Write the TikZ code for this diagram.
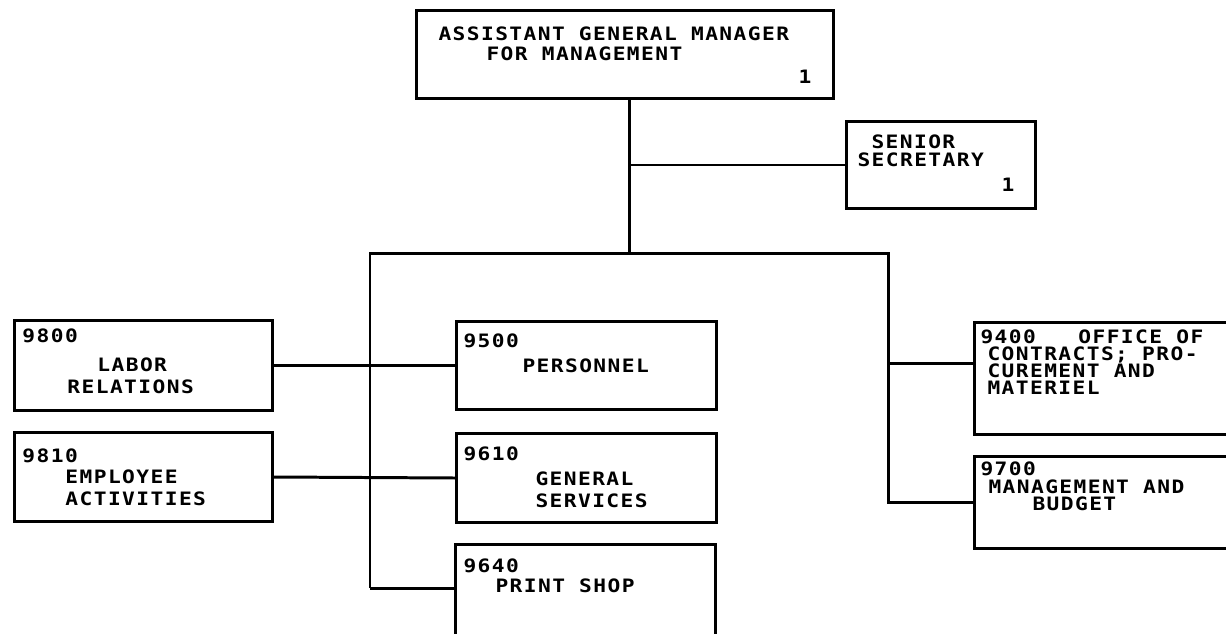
\documentclass[tikz,border=0pt]{standalone}
\usepackage{fontspec}
\newfontfamily\orgfont{DejaVu Sans Mono}[FakeStretch=1.15, LetterSpace=7.7]

\begin{document}
\begin{tikzpicture}[x=0.02cm, y=-0.02cm, line width=1.7pt,
	box/.style 2 args={draw, anchor=north west, inner sep=0pt,
		minimum width=#1*0.02cm, minimum height=#2*0.02cm},
	lbl/.style={anchor=base west, inner sep=0pt,
		font=\orgfont\bfseries\fontsize{10.5pt}{12pt}\selectfont},
	conn/.style={line width=1.7pt}]
	\useasboundingbox (0,0) rectangle (1226,633);

	% Boxes
	\node[box={417}{88}]  (agm) at (415,9)   {};	% assistant general manager
	\node[box={189}{87}]  (sec) at (845,120) {};	% senior secretary
	\node[box={258}{90}]  (lab) at (13,319)  {};	% 9800
	\node[box={258}{89}]  (emp) at (13,431)  {};	% 9810
	\node[box={260}{88}]  (per) at (455,320) {};	% 9500
	\node[box={260}{89}]  (gen) at (455,432) {};	% 9610
	\node[box={260}{100}] (prt) at (454,543) {};	% 9640
	\node[box={262}{112}] (ocp) at (973,321) {};	% 9400
	\node[box={262}{92}]  (mab) at (973,455) {};	% 9700

	% Texts
	\node[lbl] (agm1) at (437,40)  {ASSISTANT GENERAL MANAGER};
	\node[lbl] (agm2) at (485,60)  {FOR MANAGEMENT};
	\node[lbl] (agmn) at (797,83)  {1};
	\node[lbl] (sec1) at (870,148) {SENIOR};
	\node[lbl] (sec2) at (856,166) {SECRETARY};
	\node[lbl] (secn) at (1000,191) {1};

	\node[lbl] (lab0) at (21,342)  {9800};
	\node[lbl] (lab1) at (96,371)  {LABOR};
	\node[lbl] (lab2) at (66,393)  {RELATIONS};
	\node[lbl] (emp0) at (21,462)  {9810};
	\node[lbl] (emp1) at (64,483)  {EMPLOYEE};
	\node[lbl] (emp2) at (64,505)  {ACTIVITIES};

	\node[lbl] (per0) at (462,347) {9500};
	\node[lbl] (per1) at (521,372) {PERSONNEL};
	\node[lbl] (gen0) at (462,460) {9610};
	\node[lbl] (gen1) at (534,485) {GENERAL};
	\node[lbl] (gen2) at (534,507) {SERVICES};
	\node[lbl] (prt0) at (462,572) {9640};
	\node[lbl] (prt1) at (494,592) {PRINT SHOP};

	\node[lbl] (ocp0) at (979,343) {9400\ \ \ OFFICE OF};
	\node[lbl] (ocp1) at (986,360) {CONTRACTS; PRO-};
	\node[lbl] (ocp2) at (986,377) {CUREMENT AND};
	\node[lbl] (ocp3) at (986,394) {MATERIEL};
	\node[lbl] (mab0) at (979,475) {9700};
	\node[lbl] (mab1) at (987,493) {MANAGEMENT AND};
	\node[lbl] (mab2) at (1031,510) {BUDGET};

	% Connectors
	\coordinate (trunk) at (629,253);
	\coordinate (bl) at (370,253);
	\coordinate (br) at (888,253);
	\coordinate (pj) at (370,588);
	\coordinate (oj) at (888,363);

	\draw[conn] (agm.south -| trunk) -- (trunk);
	\draw[conn] (trunk |- sec.west) -- (sec.west);
	\draw[conn] (pj) -- (bl) -- (br) |- (mab.west);
	\draw[conn] (pj) -- (pj -| prt.west);
	\draw[conn] (lab.east) -- (per.west);
	\draw[conn] (emp.east) -- (gen.west);
	\draw[conn] (oj) -- (oj -| ocp.west);
\end{tikzpicture}
\end{document}
